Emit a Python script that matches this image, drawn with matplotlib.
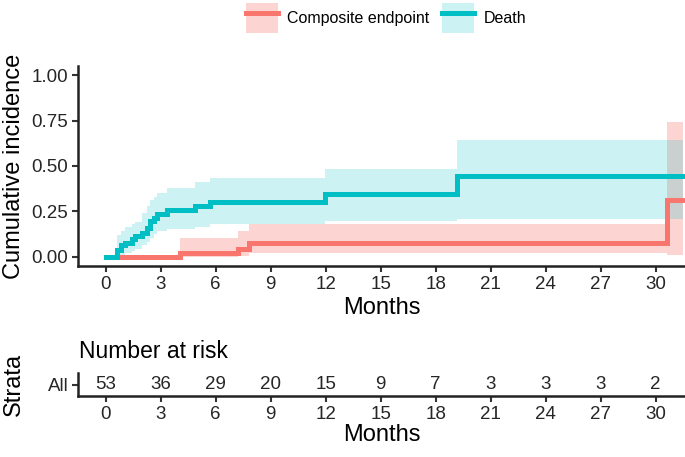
import matplotlib
matplotlib.use('Agg')
import matplotlib.pyplot as plt
from matplotlib.patches import Patch
from matplotlib.lines import Line2D

plt.rcParams['font.family'] = ['Liberation Sans', 'DejaVu Sans']

# cumulative incidence (months)
death_t = [0, 0.6, 0.82, 1.09, 1.45, 1.63, 2.0, 2.27, 2.45, 2.63, 2.81, 3.36, 4.9, 5.72, 11.97, 19.14, 31.5]
death_est = [0, 0.038, 0.065, 0.077, 0.096, 0.113, 0.133, 0.16, 0.197, 0.216, 0.235, 0.257, 0.28, 0.303, 0.345, 0.443, 0.443]
death_lo = [0, 0.0, 0.012, 0.02, 0.035, 0.046, 0.065, 0.083, 0.105, 0.124, 0.14, 0.155, 0.162, 0.18, 0.198, 0.21, 0.21]
death_hi = [0, 0.12, 0.142, 0.165, 0.18, 0.194, 0.243, 0.28, 0.312, 0.33, 0.349, 0.378, 0.41, 0.433, 0.484, 0.645, 0.645]

comp_t = [0, 4.08, 7.24, 7.8, 30.6, 31.5]
comp_est = [0, 0.022, 0.046, 0.074, 0.314, 0.314]
comp_lo = [0, 0.0, 0.003, 0.019, 0.01, 0.01]
comp_hi = [0, 0.102, 0.142, 0.182, 0.742, 0.742]

risk_times = [0, 3, 6, 9, 12, 15, 18, 21, 24, 27, 30]
risk_n = [53, 36, 29, 20, 15, 9, 7, 3, 3, 3, 2]

red = '#F8766D'
teal = '#00BFC4'
tickcol = '#262626'

fig = plt.figure(figsize=(6.85, 4.57), dpi=100)
ax = fig.add_axes([78/685, 1-266/457, 607/685, 200/457])
ax2 = fig.add_axes([78/685, 1-396/457, 607/685, 23/457])

# lines first, ribbons on top (as in the original)
ax.step(comp_t, comp_est, where='post', color=red, lw=3.6, solid_joinstyle='miter')
ax.step(death_t, death_est, where='post', color=teal, lw=3.6, solid_joinstyle='miter')
ax.fill_between(comp_t, comp_lo, comp_hi, step='post', color=red, alpha=0.3, lw=0)
ax.fill_between(death_t, death_lo, death_hi, step='post', color=teal, alpha=0.2, lw=0)

for a in (ax, ax2):
    a.set_xlim(-1.5, 31.6)
    a.set_xticks(risk_times)
    a.spines['top'].set_visible(False)
    a.spines['right'].set_visible(False)
    for s in ('left', 'bottom'):
        a.spines[s].set_linewidth(1.8)
        a.spines[s].set_color('#222222')
    a.tick_params(length=4, width=1.5, color='#333333', labelsize=13.5, labelcolor=tickcol, pad=3)

ax.set_xlabel('Months', fontsize=17, labelpad=3)
ax2.set_xlabel('Months', fontsize=17, labelpad=1)

ax.set_ylim(-0.05, 1.05)
ax.set_yticks([0, 0.25, 0.5, 0.75, 1.0])
ax.set_yticklabels(['0.00', '0.25', '0.50', '0.75', '1.00'])
ax.set_ylabel('Cumulative incidence', fontsize=17)
ax.yaxis.set_label_coords(-0.088, 0.5)

ax2.set_ylim(0, 2)
ax2.set_yticks([1])
ax2.set_yticklabels(['All'])
ax2.set_ylabel('Strata', fontsize=17)
ax2.yaxis.set_label_coords(-0.088, 0.5)
for t, n in zip(risk_times, risk_n):
    ax2.text(t, 1, str(n), ha='center', va='center', fontsize=13.5, color=tickcol)
fig.text(79/685, 1-352/457, 'Number at risk', fontsize=16.5, va='center', ha='left')

handles = [(Patch(facecolor=red, alpha=0.3, lw=0), Line2D([], [], color=red, lw=3.6)),
           (Patch(facecolor=teal, alpha=0.2, lw=0), Line2D([], [], color=teal, lw=3.6))]
fig.legend(handles, ['Composite endpoint', 'Death'], loc='center', bbox_to_anchor=(386/685, 1-18/457),
           ncol=2, frameon=False, fontsize=11.5, handlelength=2.0, handleheight=2.6,
           handletextpad=0.6, columnspacing=0.8)

fig.savefig('out.png', dpi=100)
